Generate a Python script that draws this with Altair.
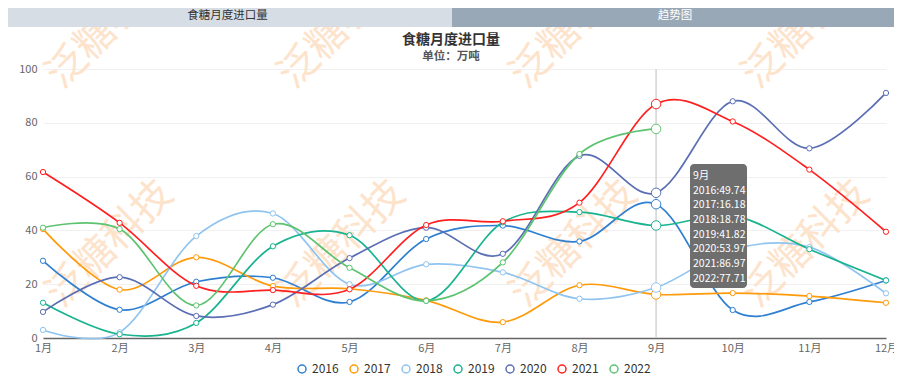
import altair as alt
import pandas as pd

months = ["1月", "2月", "3月", "4月", "5月", "6月", "7月", "8月", "9月", "10月", "11月", "12月"]
years = ["2016", "2017", "2018", "2019", "2020", "2021", "2022"]
v2016 = [28.7, 10.5, 20.9, 22.4, 13.4, 36.8, 41.8, 35.9, 49.74, 10.4, 13.4, 21.4]
v2017 = [40.5, 18.0, 30.0, 19.3, 18.3, 14.0, 5.9, 19.6, 16.18, 16.7, 15.6, 13.1]
v2018 = [3.0, 2.1, 37.9, 46.3, 20.0, 27.4, 24.4, 14.6, 18.78, 33.0, 33.8, 16.6]
v2019 = [13.1, 1.4, 5.6, 34.1, 38.2, 13.8, 43.0, 46.8, 41.82, 45.5, 33.0, 21.4]
v2020 = [9.7, 22.6, 8.2, 12.4, 29.7, 41.0, 31.3, 67.7, 53.97, 88.0, 70.5, 91.1]
v2021 = [61.7, 42.8, 19.4, 17.8, 18.1, 42.0, 43.4, 50.3, 86.97, 80.5, 62.6, 39.5]
v2022 = [41.0, 40.5, 12.1, 42.3, 26.1, 13.8, 28.1, 68.4, 77.71]
colors = ["#2f7fd1", "#ff9a0a", "#90c4f0", "#19b38f", "#5a6eb4", "#ff1f1f", "#5dc36f"]

title_text = "食糖月度进口量"
subtitle_text = "单位：万吨"
tab_left = "食糖月度进口量"
tab_right = "趋势图"
watermark = "泛糖科技"
hover_month = "9月"

FONT = "Noto Sans CJK SC"
W, H = 843, 269
OX, OY = 43, 69

series = [v2016, v2017, v2018, v2019, v2020, v2021, v2022]
rows = []
for yr, vals in zip(years, series):
    for i, v in enumerate(vals):
        rows.append({"year": yr, "month": months[i], "idx": i, "value": v})
df = pd.DataFrame(rows)

hi = months.index(hover_month)
tip_lines = [hover_month] + [f"{yr}:{vals[hi]:.2f}" for yr, vals in zip(years, series)]
tip_df = pd.DataFrame({"text": tip_lines, "py": [107 + 14.67 * i for i in range(len(tip_lines))]})

wm_rows = []
for cx in [110, 342, 574, 806]:
    for cy in [25, 244]:
        wm_rows.append({"t": watermark, "px": cx - OX, "py": cy - OY})
wm_df = pd.DataFrame(wm_rows)

one = pd.DataFrame({"a": [0]})

xenc = alt.X(
    "month:N", sort=months,
    scale=alt.Scale(type="point", domain=months, padding=0),
    axis=alt.Axis(title=None, labelAngle=0, ticks=False, labelPadding=4, labelFontSize=11,
                  labelColor="#666", labelFont=FONT, domainColor="#666", domainWidth=1.5,
                  grid=False),
)
yenc = alt.Y(
    "value:Q", scale=alt.Scale(domain=[0, 100], nice=False),
    axis=alt.Axis(title=None, values=[0, 20, 40, 60, 80, 100], ticks=False, domain=False,
                  labelPadding=6, labelFontSize=11, labelColor="#666", labelFont=FONT,
                  gridColor="#f0f0f0", gridWidth=1),
)
legend = alt.Legend(
    orient="none", legendX=253, legendY=294, direction="horizontal", title=None,
    symbolType="circle", symbolSize=64, symbolStrokeWidth=1.5, symbolFillColor="white",
    labelFont=FONT, labelFontSize=12, labelColor="#333", labelOffset=4, columnPadding=8,
)
color = alt.Color("year:N", scale=alt.Scale(domain=years, range=colors), legend=legend)

base = alt.Chart(df)

wm = alt.Chart(wm_df).mark_text(
    font=FONT, fontSize=40, angle=315, color="#fde3cb", align="center", baseline="middle"
).encode(x=alt.X("px:Q", scale=None), y=alt.Y("py:Q", scale=None), text="t:N")

tabL = alt.Chart(one).mark_rect(color="#d6dde5").encode(
    x=alt.value(-35), x2=alt.value(409), y=alt.value(-61), y2=alt.value(-42))
tabR = alt.Chart(one).mark_rect(color="#99a8b7").encode(
    x=alt.value(409), x2=alt.value(851), y=alt.value(-61), y2=alt.value(-42))
tabLt = alt.Chart(one).mark_text(font=FONT, fontSize=11.5, color="#333", baseline="middle").encode(
    x=alt.value(184.5), y=alt.value(-53), text=alt.value(tab_left))
tabRt = alt.Chart(one).mark_text(font=FONT, fontSize=11.5, color="#ffffff", baseline="middle").encode(
    x=alt.value(632), y=alt.value(-53), text=alt.value(tab_right))
ttl = alt.Chart(one).mark_text(font=FONT, fontSize=14, fontWeight="bold", color="#333", baseline="middle").encode(
    x=alt.value(408), y=alt.value(-29), text=alt.value(title_text))
sub = alt.Chart(one).mark_text(font=FONT, fontSize=11.5, fontWeight="bold", color="#555", baseline="middle").encode(
    x=alt.value(408), y=alt.value(-12), text=alt.value(subtitle_text))

rule = alt.Chart(pd.DataFrame({"month": [hover_month]})).mark_rule(color="#d6d6d6", strokeWidth=1.6).encode(x=xenc)

lines = base.mark_line(interpolate="cardinal", tension=0, strokeWidth=1.7).encode(
    x=xenc, y=yenc, color=color, detail="year:N", order="idx:Q")
pts = base.mark_point(shape="circle", filled=False, fill="white", size=28, strokeWidth=1, opacity=1).encode(
    x=xenc, y=yenc, color=color)
emph = base.transform_filter(alt.datum.month == hover_month).mark_point(
    shape="circle", filled=False, fill="white", size=90, strokeWidth=1, opacity=1).encode(
    x=xenc, y=yenc, color=color)

tipbox = alt.Chart(one).mark_rect(color="#6e6e6e", cornerRadius=4).encode(
    x=alt.value(647), x2=alt.value(704), y=alt.value(95), y2=alt.value(219))
tiptext = alt.Chart(tip_df).mark_text(font=FONT, fontSize=10.5, color="#ffffff", align="left", baseline="middle").encode(
    x=alt.value(650), y=alt.Y("py:Q", scale=None), text="text:N")

chart = alt.layer(
    wm, tabL, tabR, tabLt, tabRt, ttl, sub, rule, lines, pts, emph, tipbox, tiptext
).properties(
    width=W, height=H,
    autosize=alt.AutoSizeParams(type="none"),
    padding={"left": 35, "top": 61, "right": 8, "bottom": 38},
    background="white",
).configure_view(stroke=None)

chart.save("out.html", embed_options={"renderer": "svg", "actions": False})
